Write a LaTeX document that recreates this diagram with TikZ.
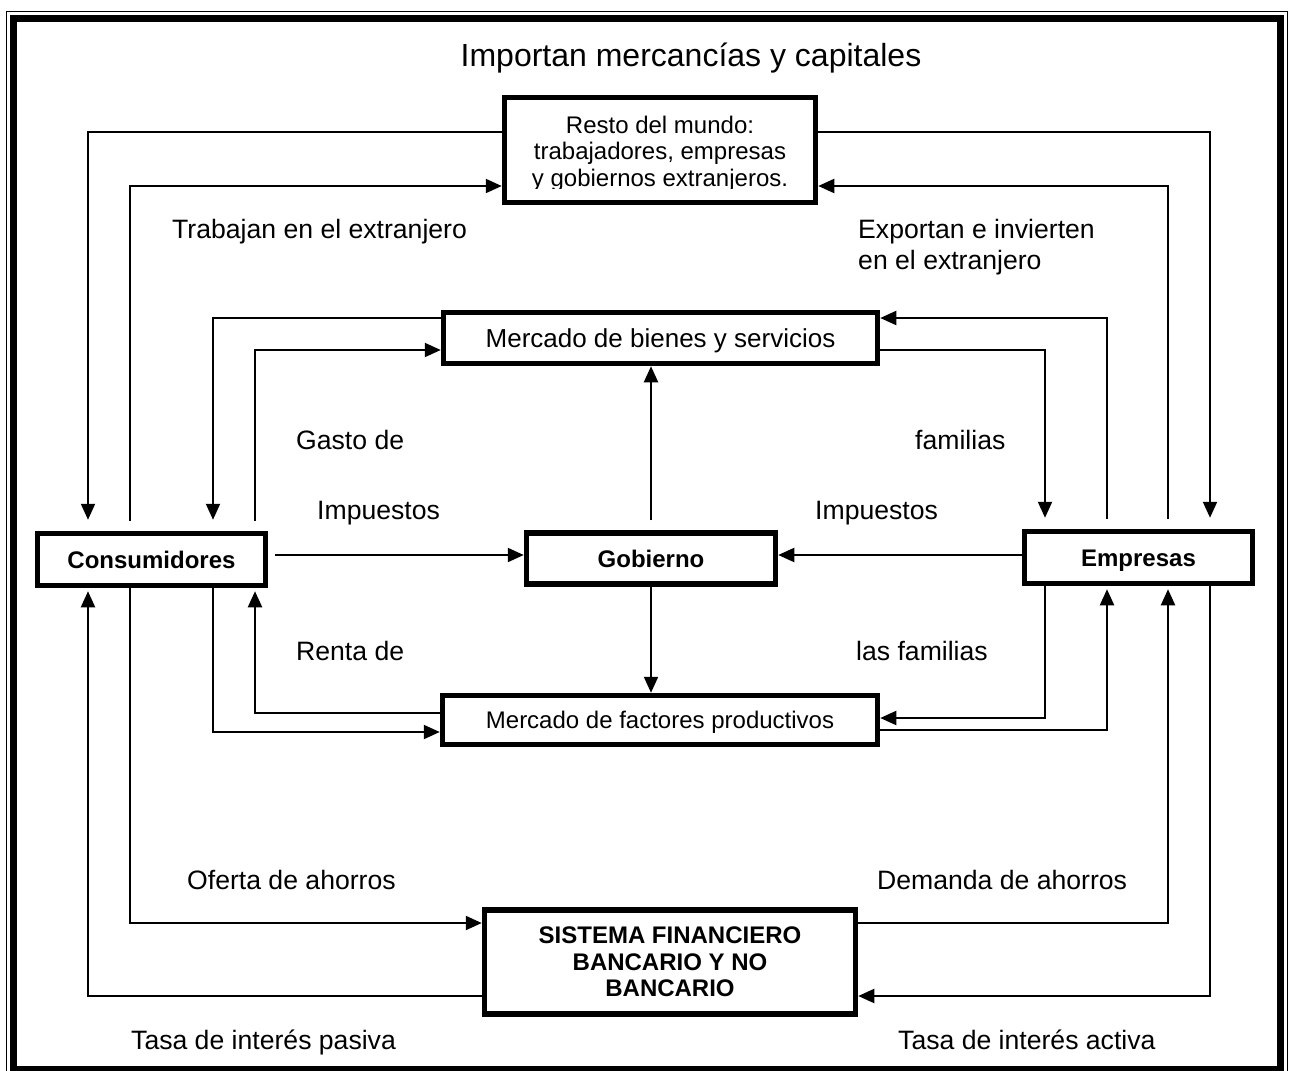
\documentclass[tikz,border=0pt]{standalone}
\usepackage{fontspec}
\setmainfont{Liberation Sans}
\usetikzlibrary{arrows.meta}
\begin{document}
\begin{tikzpicture}[x=1pt,y=-1pt,
  box/.style={draw, line width=5.5pt, inner sep=0pt, align=center,
    font=\fontsize{24}{26.5}\selectfont},
  onebox/.style={box, text height=17.2pt, text depth=0pt},
  boldbox/.style={onebox, font=\fontsize{24}{26.5}\selectfont\bfseries},
  flow/.style={line width=2.1pt, -{Triangle[length=16pt,width=14pt]}},
  lbl/.style={font=\fontsize{26.6}{31}\selectfont, inner sep=0pt, anchor=base west}]

\path[use as bounding box] (0,0) rectangle (1292,1070);
\clip (0,0) rectangle (1292,1070);

% double frame
\draw[line width=1.8pt] (6.5,11.5) rectangle (1287.5,1085);
\draw[line width=7.5pt] (13.5,18.5) rectangle (1280.5,1069.5);

% lanes and levels
\coordinate (xa) at (88,0);
\coordinate (xb) at (130,0);
\coordinate (xc) at (213,0);
\coordinate (xd) at (255,0);
\coordinate (xe) at (1045,0);
\coordinate (xf) at (1107,0);
\coordinate (xg) at (1168,0);
\coordinate (xh) at (1210,0);
\coordinate (y132) at (0,132);
\coordinate (y186) at (0,186);
\coordinate (y318) at (0,318);
\coordinate (y350) at (0,350);
\coordinate (y555) at (0,555);
\coordinate (y713) at (0,713);
\coordinate (y718) at (0,718);
\coordinate (y730) at (0,730);
\coordinate (y732) at (0,732);
\coordinate (y923) at (0,923);
\coordinate (y996) at (0,996);

% boxes
\node[box, minimum width=311pt, minimum height=105pt] (resto) at (660,150) {};
\begin{scope}
  \clip (resto.north west) rectangle (resto.east |- 0,188.5);
  \node[inner sep=0pt, align=center, font=\fontsize{24}{26.7}\selectfont]
    (restotxt) at (660,153.5) {Resto del mundo:\\trabajadores, empresas\\y gobiernos extranjeros.};
\end{scope}
\node[onebox, font=\fontsize{26}{30}\selectfont, text height=18.6pt,
  minimum width=434pt, minimum height=51pt] (mbienes) at (660.5,338) {Mercado de bienes y servicios};
\node[boldbox, minimum width=228pt, minimum height=52pt] (cons) at (151.5,559.5) {Consumidores};
\node[boldbox, minimum width=249pt, minimum height=51pt] (gob) at (651,558.5) {Gobierno};
\node[boldbox, minimum width=228pt, minimum height=52pt] (emp) at (1138.5,557.5) {Empresas};
\node[onebox, minimum width=435pt, minimum height=49pt] (mfact) at (660,720) {Mercado de factores productivos};
\node[box, font=\fontsize{24}{26.5}\selectfont\bfseries,
  minimum width=371pt, minimum height=104pt] (sist) at (670,962) {SISTEMA FINANCIERO\\BANCARIO Y NO\\BANCARIO};

% flows with the rest of the world
\draw[flow, shorten >=11pt] (resto.west |- y132) -| (cons.north -| xa);
\draw[flow, shorten <=10pt] (cons.north -| xb) |- (resto.west |- y186);
\draw[flow, shorten >=11pt] (resto.east |- y132) -| (emp.north -| xh);
\draw[flow, shorten <=10pt] (emp.north -| xg) |- (resto.east |- y186);

% goods and services market
\draw[flow, shorten >=11pt] (mbienes.west |- y318) -| (cons.north -| xc);
\draw[flow, shorten <=10pt] (cons.north -| xd) |- (mbienes.west |- y350);
\draw[flow, shorten <=10pt] (emp.north -| xf) |- (mbienes.east |- y318);
\draw[flow, shorten >=11pt] (mbienes.east |- y350) -| (emp.north -| xe);

% taxes and government
\draw[flow, shorten <=7pt] (cons.east |- y555) -- (gob.west |- y555);
\draw[flow] (emp.west |- y555) -- (gob.east |- y555);
\draw[flow, shorten <=10pt] (gob.north) -- (gob.north |- mbienes.south);
\draw[flow] (gob.south) -- (gob.south |- mfact.north);

% factor market
\draw[flow, shorten >=3pt] (mfact.west |- y713) -| (cons.south -| xd);
\draw[flow] (cons.south -| xc) |- (mfact.west |- y732);
\draw[flow] (emp.south -| xe) |- (mfact.east |- y718);
\draw[flow, shorten >=3pt] (mfact.east |- y730) -| (emp.south -| xf);

% financial system
\draw[flow] (cons.south -| xb) |- (sist.west |- y923);
\draw[flow, shorten >=3pt] (sist.west |- y996) -| (cons.south -| xa);
\draw[flow, shorten >=3pt] (sist.east |- y923) -| (emp.south -| xg);
\draw[flow] (emp.south -| xh) |- (sist.east |- y996);

% labels
\node[inner sep=0pt, anchor=base, font=\fontsize{32}{36}\selectfont] (title) at (691,66.5) {Importan mercancías y capitales};
\node[lbl] (l1) at (172,238) {Trabajan en el extranjero};
\node[lbl] (l2) at (858,238) {Exportan e invierten};
\node[lbl] (l3) at (858,269) {en el extranjero};
\node[lbl] (l4) at (296,449) {Gasto de};
\node[lbl] (l5) at (915,449) {familias};
\node[lbl] (l6) at (317,519) {Impuestos};
\node[lbl] (l7) at (815,519) {Impuestos};
\node[lbl] (l8) at (296,660) {Renta de};
\node[lbl] (l9) at (856,660) {las familias};
\node[lbl] (l10) at (187,889) {Oferta de ahorros};
\node[lbl] (l11) at (877,889) {Demanda de ahorros};
\node[lbl] (l12) at (131,1049) {Tasa de interés pasiva};
\node[lbl] (l13) at (898,1049) {Tasa de interés activa};
\end{tikzpicture}
\end{document}
